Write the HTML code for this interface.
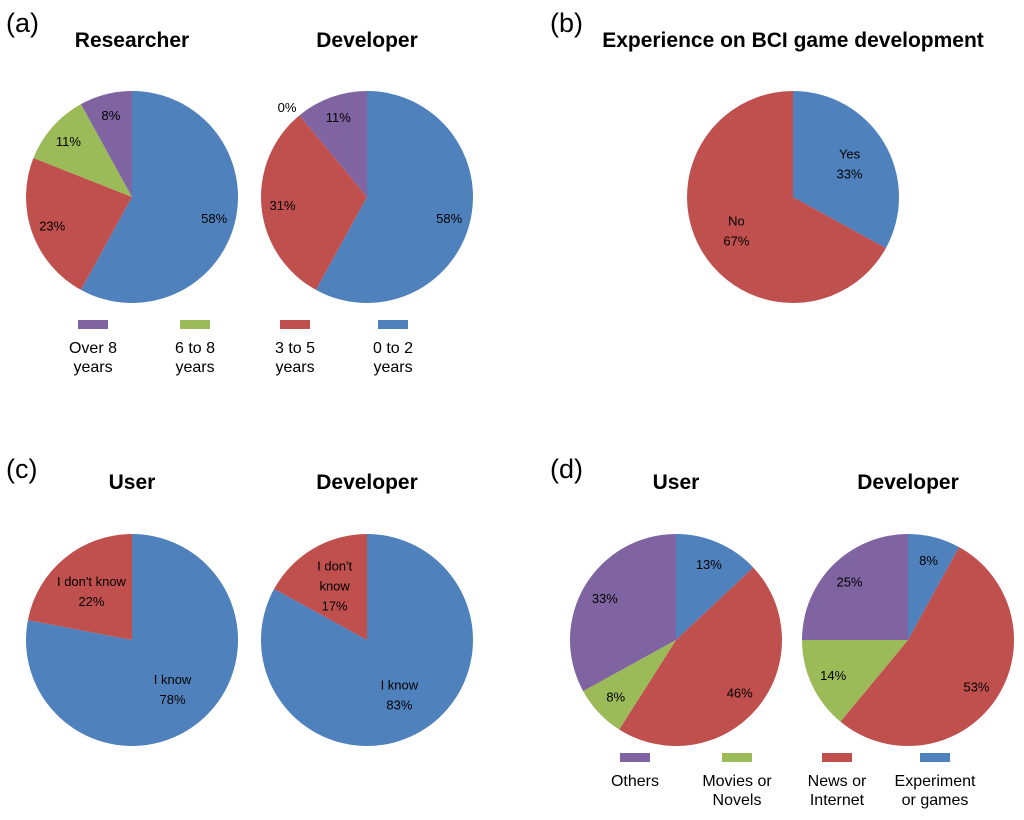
<!DOCTYPE html>
<html><head><meta charset="utf-8"><style>
body{margin:0;background:#fff;}
svg text{font-family:"Liberation Sans",sans-serif;}
</style></head><body>
<svg id="c" width="1024" height="815" xmlns="http://www.w3.org/2000/svg">
<text x="6" y="32" font-size="27">(a)</text>
<text x="550" y="32" font-size="27">(b)</text>
<text x="6" y="478" font-size="27">(c)</text>
<text x="550" y="478" font-size="27">(d)</text>
</svg>
<script>
const svg=document.getElementById('c');
const NS='http://www.w3.org/2000/svg';
const colors={blue:'#4F81BD',red:'#C0504D',green:'#9BBB59',purple:'#8064A2'};
// data
const aResearcherValues=[58,23,11,8];
const aDeveloperValues=[58,31,0,11];
const aSeriesColors=['blue','red','green','purple'];
const bValues=[33,67];
const bLabels=['Yes','No'];
const cUserValues=[78,22];
const cDeveloperValues=[83,17];
const cLabelsUser=['I know',"I don't know"];
const cLabelsDev=['I know',"I don't|know"];
const dUserValues=[13,46,8,33];
const dDeveloperValues=[8,53,14,25];
const aLegend=[['Over 8','years'],['6 to 8','years'],['3 to 5','years'],['0 to 2','years']];
const aLegendColors=['purple','green','red','blue'];
const dLegend=[['Others',''],['Movies or','Novels'],['News or','Internet'],['Experiment','or games']];

function mk(tag,attrs,name,parent){const e=document.createElementNS(NS,tag);for(const k in attrs)e.setAttribute(k,attrs[k]);


(parent||svg).appendChild(e);return e;}
function txt(x,y,s,size,name,weight,anchor){const t=mk('text',{x:x,y:y,'font-size':size,'text-anchor':anchor||'middle','font-weight':weight||'normal',fill:'#000'},name);t.textContent=s;return t;}

function pie(cx,cy,r,vals,cols,labels,name,lf,zeroPos){
  const total=vals.reduce((a,b)=>a+b,0);let acc=0;
  vals.forEach((v,i)=>{
    const a0=acc/total*2*Math.PI;acc+=v;const a1=acc/total*2*Math.PI;
    const p=(a)=>[cx+r*Math.sin(a),cy-r*Math.cos(a)];
    if(v>0){const [x0,y0]=p(a0),[x1,y1]=p(a1);const large=(a1-a0)>Math.PI?1:0;
      mk('path',{d:`M${cx},${cy}L${x0},${y0}A${r},${r} 0 ${large} 1 ${x1},${y1}Z`,fill:colors[cols[i]]},name+'-slice-'+i);}
    const am=(a0+a1)/2;const f=v>0?(lf||0.75):1.12;
    let lx=cx+r*f*Math.sin(am),ly=cy-r*f*Math.cos(am);
    if(v===0&&zeroPos){lx=zeroPos[0];ly=zeroPos[1];}
    const lines=[];if(labels&&labels[i])labels[i].split('|').forEach(s=>lines.push(s));lines.push(v+'%');
    const n=lines.length;lines.forEach((s,j)=>txt(lx,ly+5+(j-(n-1)/2)*20,s,13,name+'-label-'+i));
  });
}
txt(132,47,'Researcher',21,'title-researcher','bold');
txt(367,47,'Developer',21,'title-developer-a','bold');
txt(793,47,'Experience on BCI game development',21,'title-experience','bold');
txt(132,489,'User',21,'title-user-c','bold');
txt(367,489,'Developer',21,'title-developer-c','bold');
txt(676,489,'User',21,'title-user-d','bold');
txt(908,489,'Developer',21,'title-developer-d','bold');

pie(132,197,106,aResearcherValues,aSeriesColors,null,'researcher-pie',0.8);
pie(367,197,106,aDeveloperValues,aSeriesColors,null,'developer-pie-a',0.8,[287,107]);
pie(793,197,106,bValues,['blue','red'],bLabels,'experience-pie',0.62);
pie(132,640,106,cUserValues,['blue','red'],cLabelsUser,'user-pie-c',0.6);
pie(367,640,106,cDeveloperValues,['blue','red'],cLabelsDev,'developer-pie-c',0.6);
pie(676,640,106,dUserValues,aSeriesColors,null,'user-pie-d',0.78);
pie(908,640,106,dDeveloperValues,aSeriesColors,null,'developer-pie-d',0.78);

function legend(xs,y,items,cols,name){
  items.forEach((it,i)=>{
    mk('rect',{x:xs[i]-15,y:y,width:30,height:9,fill:colors[cols[i]]},name+'-swatch-'+i);
    txt(xs[i],y+33,it[0],16,name+'-text-'+i);
    if(it[1])txt(xs[i],y+52,it[1],16,name+'-text2-'+i);
  });
}
legend([93,195,295,393],320,aLegend,aLegendColors,'legend-a');
legend([635,737,837,935],753,dLegend,aLegendColors,'legend-d');
</script>
</body></html>
